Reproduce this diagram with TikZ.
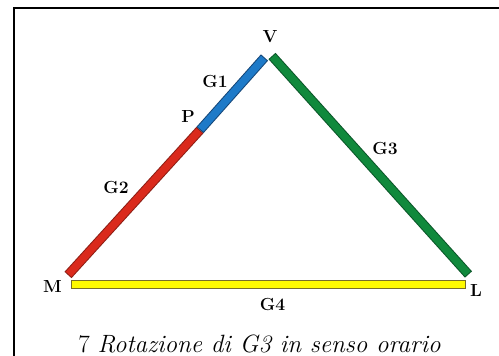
\documentclass[tikz,border=0pt]{standalone}
\usepackage{fontspec}
\begin{document}
\begin{tikzpicture}[x=1pt,y=1pt,
  lbl/.style={inner sep=0pt,font=\fontsize{17.5}{17.5}\selectfont\bfseries},
  baroutline/.style={line width=9.5pt,line cap=butt},
  barfill/.style={line width=7.5pt,line cap=butt,shorten <=1pt,shorten >=1pt}]
\definecolor{redF}{RGB}{218,42,28}
\definecolor{redO}{RGB}{140,30,20}
\definecolor{bluF}{RGB}{30,122,200}
\definecolor{bluO}{RGB}{20,70,120}
\definecolor{grnF}{RGB}{16,137,60}
\definecolor{grnO}{RGB}{10,85,40}
\definecolor{yelF}{RGB}{255,250,0}
\definecolor{yelO}{RGB}{120,110,40}
\useasboundingbox (0,0) rectangle (499,356);
\clip (0,0) rectangle (499,356);
\draw[line width=2pt] (13.5,-20) -- (13.5,348.3) -- (520,348.3);
% endpoints
\coordinate (Mend) at (68,81);
\coordinate (Pj) at (200,226);
\coordinate (Vb) at (264.5,298.5);
\coordinate (Vg) at (272,300);
\coordinate (Lend) at (468.5,81.5);
\coordinate (Ya) at (71,71.5);
\coordinate (Yb) at (466,71.5);
% bars
\draw[baroutline,yelO] (Ya) -- (Yb);
\draw[barfill,yelF] (Ya) -- (Yb);
\draw[baroutline,redO] (Mend) -- (Pj);
\draw[barfill,redF] (Mend) -- (Pj);
\draw[baroutline,bluO] (Pj) -- (Vb);
\draw[barfill,bluF] (Pj) -- (Vb);
\draw[baroutline,grnO] (Vg) -- (Lend);
\draw[barfill,grnF] (Vg) -- (Lend);
% labels
\node[lbl] (V) at (270,319) {V};
\node[lbl] (G1) at (215,274) {G1};
\node[lbl] (P) at (188,239) {P};
\node[lbl] (G3) at (385,207.5) {G3};
\node[lbl] (G2) at (116,168) {G2};
\node[lbl] (M) at (52.5,69) {M};
\node[lbl] (L) at (476,65) {L};
\node[lbl] (G4) at (272.5,51.5) {G4};
\node[inner sep=0pt,anchor=base,font=\fontsize{25}{25}\selectfont] (cap) at (259.5,3.5) {7 \textit{Rotazione di G3 in senso orario}};
\end{tikzpicture}
\end{document}
